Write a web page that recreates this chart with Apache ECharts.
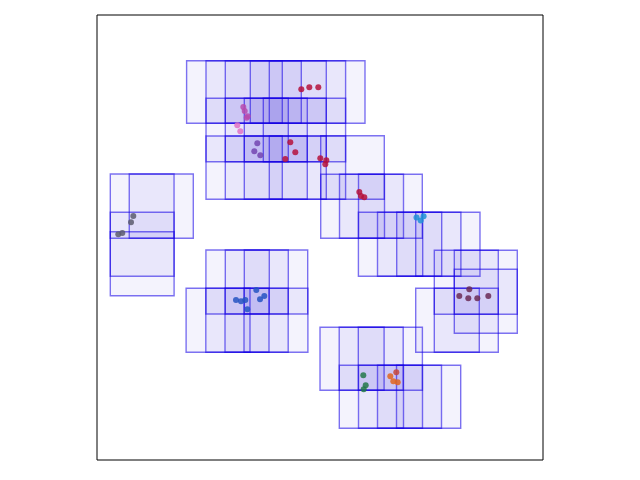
<!DOCTYPE html>
<html><head><meta charset="utf-8">
<script src="https://cdn.jsdelivr.net/npm/echarts@6/dist/echarts.min.js"></script>
<style>html,body{margin:0;padding:0;background:#fff}#c{width:640px;height:480px}</style>
</head><body><div id="c"></div>
<script>
// Boxes: [centerX, halfWidth, yLow, yHigh]
const boxesA = [
  [178.8, 89.2, 336.7, 399.3], [178.8, 69.8, 336.7, 399.3], [178.8, 50.5, 336.7, 399.3], [178.8, 25.5, 336.7, 399.3], [178.8, 6.5, 336.7, 399.3],
  [178.8, 69.8, 298.3, 361.7], [178.8, 50.5, 298.3, 361.7], [178.8, 31.5, 298.3, 361.7], [178.8, 12.5, 298.3, 361.7],
  [178.8, 69.8, 260.7, 324.0], [178.8, 50.5, 260.7, 324.0], [178.8, 31.5, 260.7, 324.0], [178.8, 6.5, 260.7, 324.0]
];
const boxesB = [
  [255.5, 31.8, 260.7, 324.3],
  [274.5, 50.8, 221.7, 285.7], [274.5, 32.0, 221.7, 285.7], [274.5, 13.0, 221.7, 285.7]
];
const boxesC = [
  [322.2, 60.8, 183.7, 247.7], [322.2, 41.7, 183.7, 247.7], [322.2, 22.5, 183.7, 247.7], [322.2, 3.5, 183.7, 247.7]
];
const boxesD = [
  [378.8, 41.5, 145.7, 209.7], [379.3, 22.0, 145.7, 209.7],
  [388.8, 31.5, 126.7, 190.7],
  [360.0, 41.3, 107.7, 171.7], [359.8, 22.5, 107.7, 171.7]
];
const boxesE = [
  [274.2, 51.2, 69.7, 132.7], [274.2, 32.0, 69.7, 132.7], [274.2, 12.9, 69.7, 132.7],
  [303.0, 60.7, 31.7, 94.7], [303.0, 41.5, 31.7, 94.7], [303.0, 22.5, 31.7, 94.7], [303.0, 3.5, 31.7, 94.7]
];
const boxesF = [
  [159.8, 50.9, 146.0, 210.0], [159.8, 31.5, 146.0, 210.0], [159.8, 12.5, 146.0, 210.0],
  [150.0, 60.9, 107.7, 171.7], [150.0, 41.2, 107.7, 171.7], [150.0, 22.0, 107.7, 171.7], [150.0, 3.0, 107.7, 171.7]
];
const boxesG = [
  [54.8, 41.5, 221.7, 286.0], [54.65, 22.4, 221.7, 286.0],
  [45.2, 31.9, 183.7, 247.7],
  [45.2, 31.9, 164.3, 228.3]
];

// Points [x, y]
const ptsRed = [[204.3,370.7],[212.3,372.7],[221.3,372.7],[193.3,317.7],[198.3,307.7],[188.3,301],[223.3,301.7],[229.3,299.7],[228.3,295.7],[262.3,268],[264,264],[267.3,262.7]];
const ptsMagenta = [[146.3,353],[147.7,349],[150.7,343.7],[149.7,342.3]];
const ptsPink = [[140.3,334.7],[143.3,328.7]];
const ptsPurple = [[160.3,316.7],[157.3,308.7],[163.3,304.7]];
const ptsCyan = [[319.5,242.5],[323.7,239.5],[326.6,243.7]];
const ptsMaroon = [[372.3,170.7],[362.3,164],[371.3,161.7],[380.3,161.7],[391.3,164]];
const ptsGrey = [[36.3,244],[34,237.7],[25.3,227],[21.3,225.7]];
const ptsBlue = [[139,160],[144,158.7],[148.3,160],[150.3,150.7],[159.3,170],[163,160.7],[167.3,164]];
const ptsGreen = [[266.3,84.7],[268.7,74.7],[266.7,70.7]];
const ptsOrange = [[293.3,83.7],[296.3,78.7],[300.7,77.7]];
const ptsRedOrange = [[299.3,87.7]];

const allBoxes = [].concat(boxesA, boxesB, boxesC, boxesD, boxesE, boxesF, boxesG);

const chart = echarts.init(document.getElementById('c'), null, {renderer: 'canvas'});
function sc(data, color) {
  return {type: 'scatter', data: data, symbolSize: 6, z: 5,
    itemStyle: {color: color, opacity: 0.85}, silent: true};
}
chart.setOption({
  animation: false,
  backgroundColor: '#fff',
  grid: {left: 97, top: 15, width: 446, height: 445, show: true, borderColor: '#000', borderWidth: 1, backgroundColor: 'transparent'},
  xAxis: {type: 'value', min: 0, max: 446, axisLine: {show: false}, axisTick: {show: false}, axisLabel: {show: false}, splitLine: {show: false}},
  yAxis: {type: 'value', min: 0, max: 445, axisLine: {show: false}, axisTick: {show: false}, axisLabel: {show: false}, splitLine: {show: false}},
  series: [
    {
      type: 'custom', z: 2, silent: true,
      data: allBoxes,
      encode: {x: [0], y: [2, 3]},
      renderItem: function (params, api) {
        const cx = api.value(0), hw = api.value(1), y0 = api.value(2), y1 = api.value(3);
        const p0 = api.coord([cx - hw, y1]);
        const p1 = api.coord([cx + hw, y0]);
        return {
          type: 'rect',
          shape: {x: p0[0], y: p0[1], width: p1[0] - p0[0], height: p1[1] - p0[1]},
          style: {fill: 'rgba(30,20,225,0.05)', stroke: 'rgba(20,0,230,0.55)', lineWidth: 1.4}
        };
      }
    },
    sc(ptsRed, '#b5103c'),
    sc(ptsMagenta, '#b64aae'),
    sc(ptsPink, '#e070c4'),
    sc(ptsPurple, '#7345b0'),
    sc(ptsCyan, '#1e8fd6'),
    sc(ptsMaroon, '#6a2a55'),
    sc(ptsGrey, '#5c5c6e'),
    sc(ptsBlue, '#2553c2'),
    sc(ptsGreen, '#23784a'),
    sc(ptsOrange, '#e0651e'),
    sc(ptsRedOrange, '#c8463a')
  ]
});
</script></body></html>
